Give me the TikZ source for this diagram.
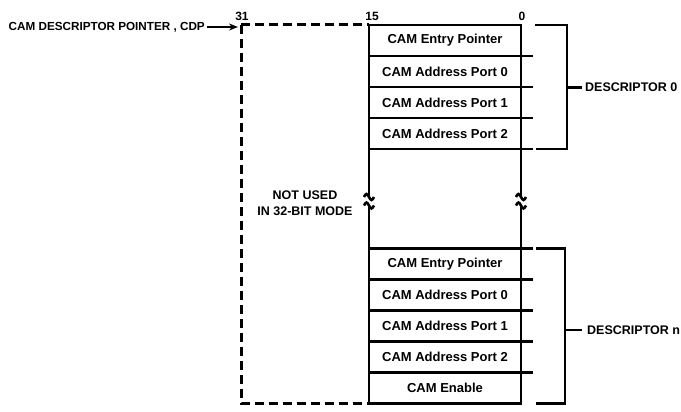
\documentclass[tikz,border=0pt]{standalone}
\usepackage{fontspec}
\setmainfont{Liberation Sans}
\usetikzlibrary{positioning,arrows.meta}
\tikzset{
  rowbox/.style={draw,line width=2.6pt,minimum width=152pt,minimum height=31pt,inner sep=0pt,outer sep=0pt,
    font=\fontsize{13}{15}\selectfont\bfseries},
  lbl/.style={inner sep=0pt,font=\fontsize{12.5}{16}\selectfont\bfseries},
  bitno/.style={inner sep=0pt,font=\fontsize{12}{14}\selectfont\bfseries},
  cdpline/.style={line width=3pt,dash pattern=on 9pt off 5pt},
  brk/.style={line width=2.6pt}
}
\begin{document}
\begin{tikzpicture}[x=1pt,y=-1pt,line join=miter,>={Stealth[length=9pt,width=7pt]}]
\useasboundingbox (0,0) rectangle (681,412);
% descriptor 0
\node[rowbox] (ep0) at (445,40.5) {CAM Entry Pointer};
\node[rowbox,below=0pt of ep0] (ap00) {CAM Address Port 0};
\node[rowbox,below=0pt of ap00] (ap01) {CAM Address Port 1};
\node[rowbox,below=0pt of ap01] (ap02) {CAM Address Port 2};
% descriptor n
\node[rowbox] (epn) at (445,264) {CAM Entry Pointer};
\node[rowbox,below=0pt of epn] (apn0) {CAM Address Port 0};
\node[rowbox,below=0pt of apn0] (apn1) {CAM Address Port 1};
\node[rowbox,below=0pt of apn1] (apn2) {CAM Address Port 2};
\node[rowbox,below=0pt of apn2] (enb) {CAM Enable};
% row lines past the right edge
\foreach \r in {ep0,ap00,ap01,ap02,epn,apn0,apn1,apn2}
  \draw[brk] (\r.south east) -- ++(12,0);
\draw[brk] (epn.north east) -- ++(12,0);
% side lines with breaks
\foreach \a in {west,east} {
  \draw[brk] (ap02.south \a) -- ++(0,47) coordinate (bt\a);
  \draw[brk] (epn.north \a) -- ++(0,-42) coordinate (bb\a);
  \draw[brk] (bt\a) ++(-5,1) sin ++(2.5,-3) cos ++(2.5,3) sin ++(2.5,3) cos ++(2.5,-3);
  \draw[brk] (bb\a) ++(-5,-1) sin ++(2.5,-3) cos ++(2.5,3) sin ++(2.5,3) cos ++(2.5,-3);
}
% bit numbers
\node[bitno] (b31) at (242,16) {31};
\node[bitno] (b15) at (372,16) {15};
\node[bitno] (b0) at (522,16) {0};
% pointer
\coordinate (cdp) at (241,25);
\node[inner sep=0pt,font=\fontsize{11.7}{14}\selectfont\bfseries,anchor=east] (cdpl) at (205,27)
  {CAM DESCRIPTOR POINTER , CDP};
\draw[->,line width=1.8pt] ([xshift=2pt]cdpl.east) -- ([xshift=-3pt,yshift=-2pt]cdp);
\draw[cdpline] (cdp) -- (ep0.north west);
\draw[cdpline] (cdp) |- (enb.south west);
\node[lbl,align=center] (nu) at (305,203) {NOT USED\\IN 32-BIT MODE};
% brackets
\node[lbl,anchor=west] (d0) at (585,87.5) {DESCRIPTOR 0};
\draw[brk] ([xshift=14pt]ep0.north east) -| ([xshift=-18pt]d0.west) |- ([xshift=15pt]ap02.south east);
\draw[brk] ([xshift=-18pt]d0.west) -- ([xshift=-3pt]d0.west);
\node[lbl,anchor=west] (dn) at (587,330) {DESCRIPTOR n};
\draw[brk] ([xshift=15pt]epn.north east) -| ([xshift=-22pt]dn.west) |- ([xshift=15pt]enb.south east);
\draw[brk] ([xshift=-22pt]dn.west) -- ([xshift=-5pt]dn.west);
\end{tikzpicture}
\end{document}
